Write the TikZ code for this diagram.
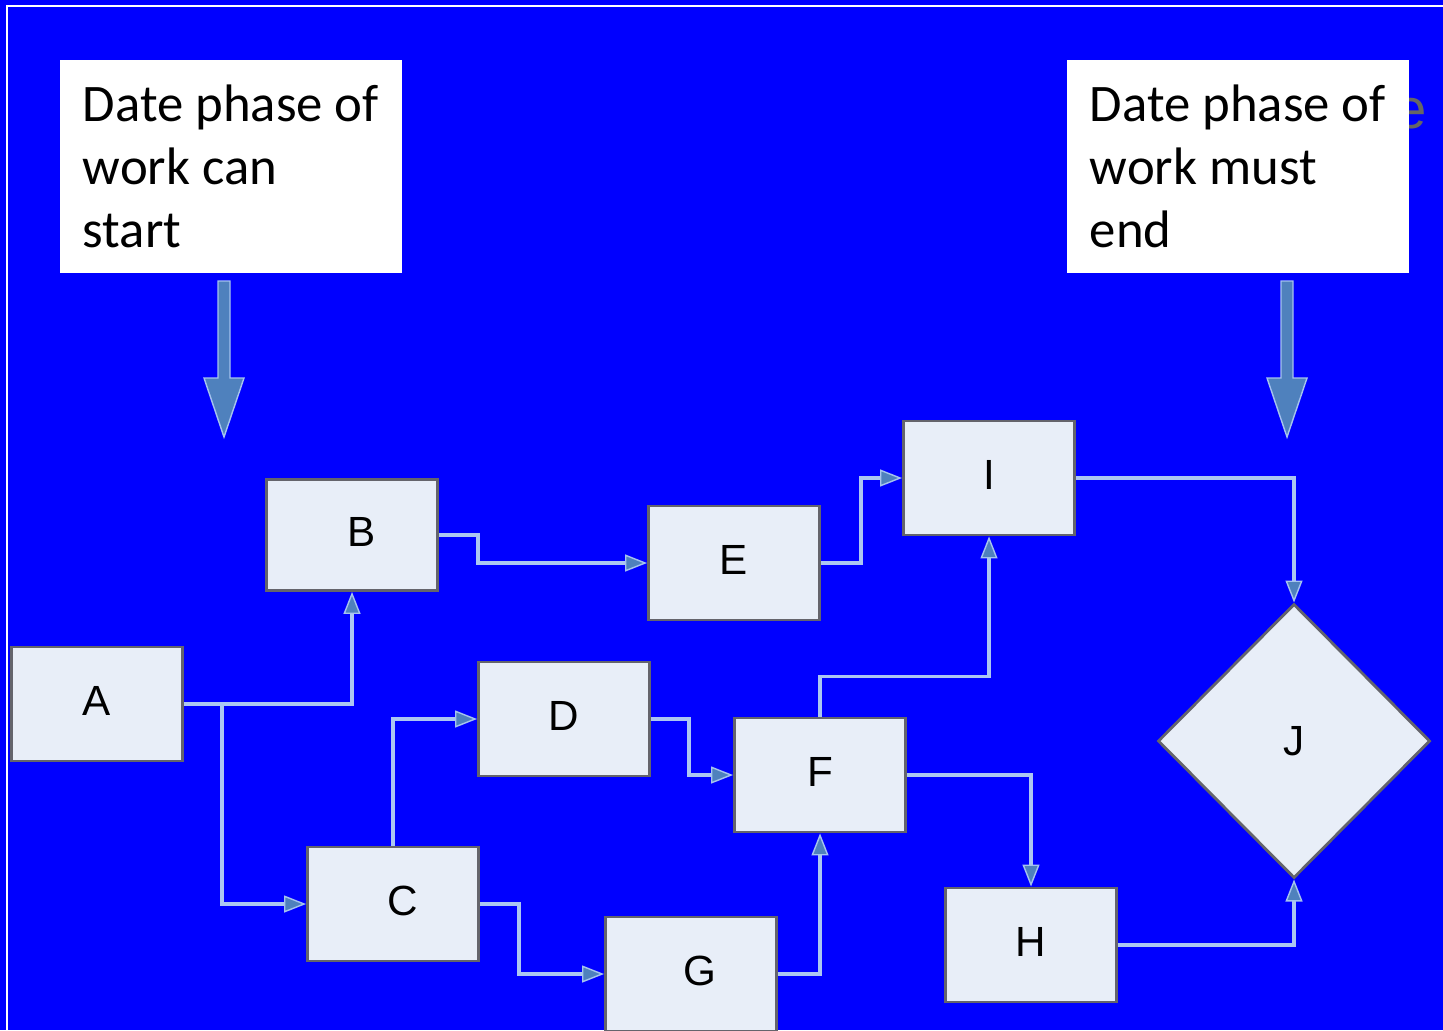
\documentclass[tikz,border=0pt]{standalone}
\usepackage{fontspec}
\setmainfont{Carlito}
\newfontfamily\boxfont{Liberation Sans}
\usetikzlibrary{calc}
\usetikzlibrary{positioning}
\usetikzlibrary{arrows.meta}
\usetikzlibrary{shapes.geometric}

\definecolor{slideblue}{RGB}{0,0,255}
\definecolor{boxfill}{RGB}{232,238,248}
\definecolor{boxline}{RGB}{100,100,108}
\definecolor{linkblue}{RGB}{172,198,242}
\definecolor{tipblue}{RGB}{79,129,189}
\definecolor{arrowedge}{RGB}{165,195,238}

\begin{document}
\begin{tikzpicture}[%
  x=0.01cm, y=-0.01cm,
  >={Triangle[length=0.22cm,width=0.17cm,fill=tipblue,color=arrowedge,line width=0.4pt]},
  task/.style={draw=boxline,fill=boxfill,line width=0.028cm,
    minimum width=1.71cm,minimum height=1.14cm,inner sep=0pt,
    text depth=0.07cm,font=\boxfont\fontsize{12}{14}\selectfont},
  milestone/.style={task,diamond,aspect=1,text depth=0pt,
    minimum width=2.72cm,minimum height=2.74cm},
  link/.style={draw=linkblue,line width=0.035cm,->},
  notebox/.style={fill=white,minimum width=3.42cm,minimum height=2.13cm,
    align=left,inner sep=0pt,font=\fontsize{15}{18}\selectfont},
  bigarrow/.style={fill=tipblue,draw=arrowedge,line width=0.4pt},
]

  \useasboundingbox (0,0) rectangle (1443,1030);
  \fill[slideblue] (0,0) rectangle (1443,1030);
  \draw[white,line width=0.02cm] (7,1030) -- (7,6) -- (1443,6);

  \node[font=\boxfont\fontsize{16}{16}\selectfont,text=black!60] (hidden) at (1411,114) {e};

  \node[notebox,anchor=north west] (start) at (59,59) {Date phase of\\work can\\start};
  \node[notebox,anchor=north west] (finish) at (1066,59) {Date phase of\\work must\\end};

  \coordinate (startTip) at (224,437);
  \coordinate (finishTip) at (1287,437);

  \filldraw[bigarrow] (startTip) -- ++(-20,-59) -- ++(14,0) -- ++(0,-97)
    -- ++(12,0) -- ++(0,97) -- ++(14,0) -- cycle;
  \filldraw[bigarrow] (finishTip) -- ++(-20,-59) -- ++(14,0) -- ++(0,-97)
    -- ++(12,0) -- ++(0,97) -- ++(14,0) -- cycle;

  \node[task] (A) at (97,704) {A};
  \node[task,minimum height=1.11cm] (B) at (352,535) {\hspace*{0.2cm}B};
  \node[task] (C) at (393,904) {\hspace*{0.2cm}C};
  \node[task] (D) at (564,719) {D};
  \node[task] (E) at (734,563) {E};
  \node[task] (F) at (820,775) {F};
  \node[task] (G) at (691,974) {\hspace*{0.18cm}G};
  \node[task] (H) at (1031,945) {H};
  \node[task] (I) at (989,478) {I};
  \node[milestone] (J) at (1294,741) {J};

  \draw[link] (A.east) -| (B.south);
  \draw[link] (A.east) -- ++(38,0) |- (C.west);
  \draw[link] (B.east) -- ++(39,0) |- (E.west);
  \draw[link] (E.east) -- ++(40,0) |- (I.west);
  \draw[link] (C.north) |- (D.west);
  \draw[link] (D.east) -- ++(38,0) |- (F.west);
  \draw[link] (C.east) -- ++(39,0) |- (G.west);
  \draw[link] (G.east) -| (F.south);
  \draw[link] (F.north) -- ++(0,-40) -| (I.south);
  \draw[link] (F.east) -| (H.north);
  \draw[link] (I.east) -| (J.north);
  \draw[link] (H.east) -| (J.south);

\end{tikzpicture}
\end{document}
